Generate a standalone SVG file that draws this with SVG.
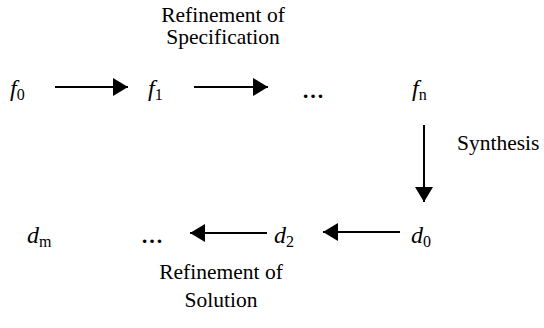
<svg xmlns="http://www.w3.org/2000/svg" width="544" height="328" viewBox="0 0 544 328">
<defs>
<style>
text{font-family:"Liberation Serif","Times New Roman",serif;fill:#000}
.lbl{font-size:21.5px}
.var{font-size:24px;font-style:italic}
.sub{font-size:16px;font-style:normal}
.dots{font-size:22px;font-weight:bold}
.edge{stroke:#000;stroke-width:2;fill:none}
</style>
<marker id="ah" markerWidth="16" markerHeight="18" refX="15" refY="9" orient="auto" markerUnits="userSpaceOnUse">
<path d="M0,0 L15,9 L0,18 Z" fill="#000"/>
</marker>
</defs>
<rect width="544" height="328" fill="#fff"/>
<g id="f0"><text class="var" x="10" y="96">f<tspan class="sub" dy="4">0</tspan></text></g>
<g id="f1"><text class="var" x="148" y="96">f<tspan class="sub" dy="4">1</tspan></text></g>
<g id="fdots"><text class="dots" x="302" y="98">…</text></g>
<g id="fn"><text class="var" x="412" y="96">f<tspan class="sub" dy="4">n</tspan></text></g>
<g id="d0"><text class="var" x="411" y="243">d<tspan class="sub" dy="4">0</tspan></text></g>
<g id="d2"><text class="var" x="274" y="243">d<tspan class="sub" dy="4">2</tspan></text></g>
<g id="ddots"><text class="dots" x="141" y="243">…</text></g>
<g id="dm"><text class="var" x="27" y="243">d<tspan class="sub" dy="4">m</tspan></text></g>
<g id="labels">
<text class="lbl" x="223" y="22" text-anchor="middle">Refinement of</text>
<text class="lbl" x="223" y="44" text-anchor="middle">Specification</text>
<text class="lbl" x="457" y="150">Synthesis</text>
<text class="lbl" x="221" y="279" text-anchor="middle">Refinement of</text>
<text class="lbl" x="221" y="307" text-anchor="middle">Solution</text>
</g>
<g id="connectors">
<line class="edge" x1="55" y1="87" x2="128" y2="87" marker-end="url(#ah)"/>
<line class="edge" x1="194" y1="87" x2="268" y2="87" marker-end="url(#ah)"/>
<line class="edge" x1="424" y1="125" x2="424" y2="202" marker-end="url(#ah)"/>
<line class="edge" x1="400" y1="232" x2="323" y2="232" marker-end="url(#ah)"/>
<line class="edge" x1="267" y1="233" x2="190" y2="233" marker-end="url(#ah)"/>
</g>
</svg>
